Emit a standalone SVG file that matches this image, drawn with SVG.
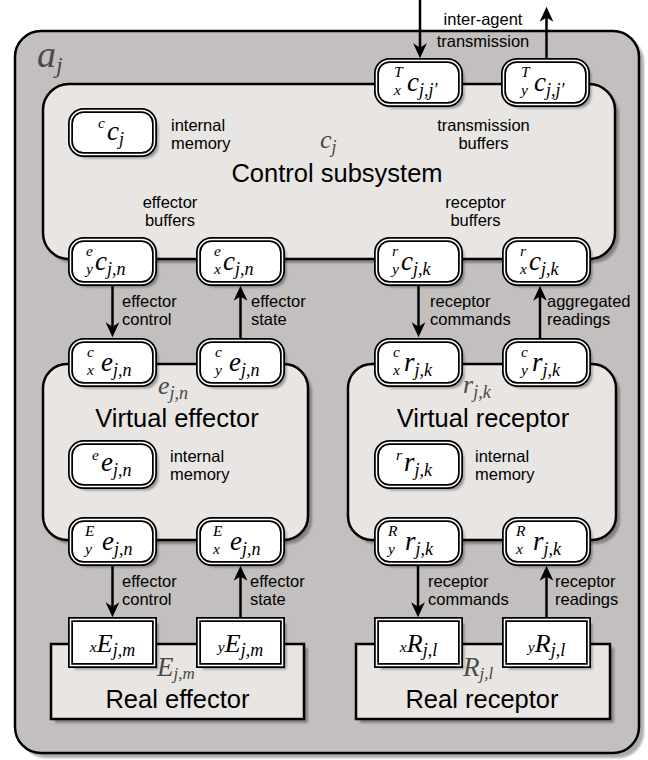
<svg xmlns="http://www.w3.org/2000/svg" width="648" height="760" viewBox="0 0 648 760">
<style>
.bx{stroke:#000;stroke-width:2.5}
.out{fill:#c3bfbe}
.inn{fill:#e8e5e3}
.nb{fill:#fff;stroke:#000;stroke-width:5}
.ni{fill:none;stroke:#fff;stroke-width:1.5}
.sh{fill:#000;opacity:.32;filter:url(#blur)}
.lbl{font-family:"Liberation Sans",Arial,sans-serif;font-size:16.5px;fill:#000}
.mid{text-anchor:middle}
.ttl{font-family:"Liberation Sans",Arial,sans-serif;font-size:25.5px;text-anchor:middle;fill:#000}
.m{font-family:"Liberation Serif","Times New Roman",serif;font-style:italic;fill:#000}
.mm{font-size:27px}
.mE{font-size:26px}
.ms{font-size:18px}
.mp{font-size:15.5px}
.g{fill:#4a4a4a}
.arr{stroke:#000;stroke-width:2.5;fill:none;marker-end:url(#ah)}
</style>
<defs>
<filter id="blur" x="-10%" y="-10%" width="120%" height="120%"><feGaussianBlur stdDeviation="1.2"/></filter>
<marker id="ah" markerUnits="userSpaceOnUse" markerWidth="20" markerHeight="20" viewBox="-14 -7 16 14" refX="-5" refY="0" orient="auto" overflow="visible">
<path d="M0,0 L-12,-5.5 L-8.5,0 L-12,5.5 Z" fill="#000"/>
</marker>
</defs>

<!-- outer agent box -->
<g id="agent">
<rect class="sh" x="20" y="36" width="624" height="722" rx="26"/>
<rect class="bx out" x="15" y="31" width="624" height="722" rx="26"/>
<text class="m g" x="37" y="67" font-size="38">a<tspan font-size="24" dy="6">j</tspan></text>
</g>

<!-- control subsystem -->
<g id="control">
<rect class="sh" x="47" y="88" width="572" height="175" rx="26"/>
<rect class="bx inn" x="43" y="84" width="572" height="175" rx="26"/>
<text class="m g" x="320" y="148" font-size="26">c<tspan font-size="18" dy="5">j</tspan></text>
<text class="ttl" x="337" y="182">Control subsystem</text>
<text class="lbl" x="171" y="131">internal</text>
<text class="lbl" x="171" y="149">memory</text>
<text class="lbl mid" x="483.5" y="130.5">transmission</text>
<text class="lbl mid" x="483.5" y="148.5">buffers</text>
<text class="lbl mid" x="170" y="207.5">effector</text>
<text class="lbl mid" x="170" y="225.5">buffers</text>
<text class="lbl mid" x="475.5" y="207.5">receptor</text>
<text class="lbl mid" x="475.5" y="225.5">buffers</text>
</g>

<!-- virtual effector -->
<g id="veffector">
<rect class="sh" x="47" y="368" width="265" height="176" rx="24"/>
<rect class="bx inn" x="43" y="364" width="265" height="176" rx="24"/>
<text class="m g" x="158" y="394" font-size="26">e<tspan font-size="18" dy="5">j,n</tspan></text>
<text class="ttl" x="177" y="427">Virtual effector</text>
<text class="lbl" x="170" y="462">internal</text>
<text class="lbl" x="170" y="480">memory</text>
</g>

<!-- virtual receptor -->
<g id="vreceptor">
<rect class="sh" x="352" y="368" width="268" height="176" rx="24"/>
<rect class="bx inn" x="348" y="364" width="268" height="176" rx="24"/>
<text class="m g" x="463" y="393" font-size="26">r<tspan font-size="18" dy="5">j,k</tspan></text>
<text class="ttl" x="483" y="427">Virtual receptor</text>
<text class="lbl" x="475" y="462">internal</text>
<text class="lbl" x="475" y="480">memory</text>
</g>

<!-- real effector -->
<g id="reffector">
<rect class="sh" x="55" y="648" width="253" height="75"/>
<rect class="bx inn" x="51" y="644" width="253" height="75"/>
<text class="m g" x="157" y="676" font-size="27">E<tspan font-size="17" dy="3">j,m</tspan></text>
<text class="ttl" x="177.5" y="708">Real effector</text>
</g>

<!-- real receptor -->
<g id="rreceptor">
<rect class="sh" x="360" y="648" width="254" height="75"/>
<rect class="bx inn" x="356" y="644" width="254" height="75"/>
<text class="m g" x="463" y="676" font-size="27">R<tspan font-size="17" dy="3">j,l</tspan></text>
<text class="ttl" x="482" y="708">Real receptor</text>
</g>

<!-- connectors -->
<g id="connectors">
<line class="arr" x1="420" y1="0" x2="420" y2="52"/>
<line class="arr" x1="546.5" y1="60" x2="546.5" y2="13"/>
<line class="arr" x1="112.5" y1="286" x2="112.5" y2="331"/>
<line class="arr" x1="240.5" y1="338" x2="240.5" y2="292"/>
<line class="arr" x1="418.5" y1="286" x2="418.5" y2="331"/>
<line class="arr" x1="540" y1="338" x2="540" y2="292"/>
<line class="arr" x1="112.5" y1="566" x2="112.5" y2="611"/>
<line class="arr" x1="240.5" y1="617" x2="240.5" y2="572"/>
<line class="arr" x1="418" y1="566" x2="418" y2="611"/>
<line class="arr" x1="546.5" y1="617" x2="546.5" y2="572"/>
<text class="lbl mid" x="483" y="25">inter-agent</text>
<text class="lbl mid" x="483" y="47">transmission</text>
<text class="lbl" x="122" y="306.5">effector</text>
<text class="lbl" x="122" y="324.5">control</text>
<text class="lbl" x="251" y="306.5">effector</text>
<text class="lbl" x="251" y="324.5">state</text>
<text class="lbl" x="430" y="306.5">receptor</text>
<text class="lbl" x="430" y="324.5">commands</text>
<text class="lbl" x="547" y="306.5">aggregated</text>
<text class="lbl" x="547" y="324.5">readings</text>
<text class="lbl" x="122" y="586.5">effector</text>
<text class="lbl" x="122" y="604.5">control</text>
<text class="lbl" x="250" y="586.5">effector</text>
<text class="lbl" x="250" y="604.5">state</text>
<text class="lbl" x="428" y="586.5">receptor</text>
<text class="lbl" x="428" y="604.5">commands</text>
<text class="lbl" x="555" y="586.5">receptor</text>
<text class="lbl" x="555" y="604.5">readings</text>
</g>

<!-- buffer nodes: control subsystem -->
<g id="n_Tx" transform="translate(374,58)">
<rect class="sh" x="6.5" y="6.5" width="84" height="44" rx="13"/>
<rect class="nb" x="2.5" y="2.5" width="84" height="44" rx="13"/><rect class="ni" x="2.5" y="2.5" width="84" height="44" rx="13"/>
<text class="m mp" x="20" y="19">T</text><text class="m mp" x="20" y="37">x</text>
<text class="m mm" x="33" y="33">c<tspan class="ms" dy="5">j,j′</tspan></text>
</g>
<g id="n_Ty" transform="translate(501,58)">
<rect class="sh" x="6.5" y="6.5" width="84" height="44" rx="13"/>
<rect class="nb" x="2.5" y="2.5" width="84" height="44" rx="13"/><rect class="ni" x="2.5" y="2.5" width="84" height="44" rx="13"/>
<text class="m mp" x="20" y="19">T</text><text class="m mp" x="20" y="37">y</text>
<text class="m mm" x="33" y="33">c<tspan class="ms" dy="5">j,j′</tspan></text>
</g>
<g id="n_cc" transform="translate(68,108)">
<rect class="sh" x="6.5" y="6.5" width="84" height="44" rx="13"/>
<rect class="nb" x="2.5" y="2.5" width="84" height="44" rx="13"/><rect class="ni" x="2.5" y="2.5" width="84" height="44" rx="13"/>
<text class="m mp" x="30" y="20">c</text>
<text class="m mm" x="39" y="32">c<tspan class="ms" dy="5">j</tspan></text>
</g>
<g id="n_eyc" transform="translate(68,237)">
<rect class="sh" x="6.5" y="6.5" width="84" height="44" rx="13"/>
<rect class="nb" x="2.5" y="2.5" width="84" height="44" rx="13"/><rect class="ni" x="2.5" y="2.5" width="84" height="44" rx="13"/>
<text class="m mp" x="18" y="19">e</text><text class="m mp" x="18" y="37">y</text>
<text class="m mm" x="27" y="33">c<tspan class="ms" dy="5">j,n</tspan></text>
</g>
<g id="n_exc" transform="translate(196,237)">
<rect class="sh" x="6.5" y="6.5" width="84" height="44" rx="13"/>
<rect class="nb" x="2.5" y="2.5" width="84" height="44" rx="13"/><rect class="ni" x="2.5" y="2.5" width="84" height="44" rx="13"/>
<text class="m mp" x="18" y="19">e</text><text class="m mp" x="18" y="37">x</text>
<text class="m mm" x="27" y="33">c<tspan class="ms" dy="5">j,n</tspan></text>
</g>
<g id="n_ryc" transform="translate(374,237)">
<rect class="sh" x="6.5" y="6.5" width="84" height="44" rx="13"/>
<rect class="nb" x="2.5" y="2.5" width="84" height="44" rx="13"/><rect class="ni" x="2.5" y="2.5" width="84" height="44" rx="13"/>
<text class="m mp" x="18" y="19">r</text><text class="m mp" x="18" y="37">y</text>
<text class="m mm" x="27" y="33">c<tspan class="ms" dy="5">j,k</tspan></text>
</g>
<g id="n_rxc" transform="translate(502,237)">
<rect class="sh" x="6.5" y="6.5" width="84" height="44" rx="13"/>
<rect class="nb" x="2.5" y="2.5" width="84" height="44" rx="13"/><rect class="ni" x="2.5" y="2.5" width="84" height="44" rx="13"/>
<text class="m mp" x="18" y="19">r</text><text class="m mp" x="18" y="37">x</text>
<text class="m mm" x="27" y="33">c<tspan class="ms" dy="5">j,k</tspan></text>
</g>

<!-- buffer nodes: virtual effector -->
<g id="n_cxe" transform="translate(68,338)">
<rect class="sh" x="6.5" y="6.5" width="84" height="44" rx="13"/>
<rect class="nb" x="2.5" y="2.5" width="84" height="44" rx="13"/><rect class="ni" x="2.5" y="2.5" width="84" height="44" rx="13"/>
<text class="m mp" x="19" y="19">c</text><text class="m mp" x="19" y="37">x</text>
<text class="m mm" x="33" y="33">e<tspan class="ms" dy="5">j,n</tspan></text>
</g>
<g id="n_cye" transform="translate(196,338)">
<rect class="sh" x="6.5" y="6.5" width="84" height="44" rx="13"/>
<rect class="nb" x="2.5" y="2.5" width="84" height="44" rx="13"/><rect class="ni" x="2.5" y="2.5" width="84" height="44" rx="13"/>
<text class="m mp" x="19" y="19">c</text><text class="m mp" x="19" y="37">y</text>
<text class="m mm" x="33" y="33">e<tspan class="ms" dy="5">j,n</tspan></text>
</g>
<g id="n_ee" transform="translate(68,440)">
<rect class="sh" x="6.5" y="6.5" width="84" height="44" rx="13"/>
<rect class="nb" x="2.5" y="2.5" width="84" height="44" rx="13"/><rect class="ni" x="2.5" y="2.5" width="84" height="44" rx="13"/>
<text class="m mp" x="24" y="20">e</text>
<text class="m mm" x="33" y="31">e<tspan class="ms" dy="5">j,n</tspan></text>
</g>
<g id="n_Eye" transform="translate(68,517)">
<rect class="sh" x="6.5" y="6.5" width="84" height="44" rx="13"/>
<rect class="nb" x="2.5" y="2.5" width="84" height="44" rx="13"/><rect class="ni" x="2.5" y="2.5" width="84" height="44" rx="13"/>
<text class="m mp" x="17" y="19">E</text><text class="m mp" x="17" y="37">y</text>
<text class="m mm" x="34" y="33">e<tspan class="ms" dy="5">j,n</tspan></text>
</g>
<g id="n_Exe" transform="translate(196,517)">
<rect class="sh" x="6.5" y="6.5" width="84" height="44" rx="13"/>
<rect class="nb" x="2.5" y="2.5" width="84" height="44" rx="13"/><rect class="ni" x="2.5" y="2.5" width="84" height="44" rx="13"/>
<text class="m mp" x="17" y="19">E</text><text class="m mp" x="17" y="37">x</text>
<text class="m mm" x="34" y="33">e<tspan class="ms" dy="5">j,n</tspan></text>
</g>

<!-- buffer nodes: virtual receptor -->
<g id="n_cxr" transform="translate(374,338)">
<rect class="sh" x="6.5" y="6.5" width="84" height="44" rx="13"/>
<rect class="nb" x="2.5" y="2.5" width="84" height="44" rx="13"/><rect class="ni" x="2.5" y="2.5" width="84" height="44" rx="13"/>
<text class="m mp" x="19" y="19">c</text><text class="m mp" x="19" y="37">x</text>
<text class="m mm" x="30" y="33">r<tspan class="ms" dy="5">j,k</tspan></text>
</g>
<g id="n_cyr" transform="translate(502,338)">
<rect class="sh" x="6.5" y="6.5" width="84" height="44" rx="13"/>
<rect class="nb" x="2.5" y="2.5" width="84" height="44" rx="13"/><rect class="ni" x="2.5" y="2.5" width="84" height="44" rx="13"/>
<text class="m mp" x="19" y="19">c</text><text class="m mp" x="19" y="37">y</text>
<text class="m mm" x="30" y="33">r<tspan class="ms" dy="5">j,k</tspan></text>
</g>
<g id="n_rr" transform="translate(374,440)">
<rect class="sh" x="6.5" y="6.5" width="84" height="44" rx="13"/>
<rect class="nb" x="2.5" y="2.5" width="84" height="44" rx="13"/><rect class="ni" x="2.5" y="2.5" width="84" height="44" rx="13"/>
<text class="m mp" x="22" y="20">r</text>
<text class="m mm" x="30" y="31">r<tspan class="ms" dy="5">j,k</tspan></text>
</g>
<g id="n_Ryr" transform="translate(374,517)">
<rect class="sh" x="6.5" y="6.5" width="84" height="44" rx="13"/>
<rect class="nb" x="2.5" y="2.5" width="84" height="44" rx="13"/><rect class="ni" x="2.5" y="2.5" width="84" height="44" rx="13"/>
<text class="m mp" x="14" y="19">R</text><text class="m mp" x="14" y="37">y</text>
<text class="m mm" x="31" y="33">r<tspan class="ms" dy="5">j,k</tspan></text>
</g>
<g id="n_Rxr" transform="translate(502,517)">
<rect class="sh" x="6.5" y="6.5" width="84" height="44" rx="13"/>
<rect class="nb" x="2.5" y="2.5" width="84" height="44" rx="13"/><rect class="ni" x="2.5" y="2.5" width="84" height="44" rx="13"/>
<text class="m mp" x="14" y="19">R</text><text class="m mp" x="14" y="37">x</text>
<text class="m mm" x="31" y="33">r<tspan class="ms" dy="5">j,k</tspan></text>
</g>

<!-- buffer nodes: real effector / receptor -->
<g id="n_xE" transform="translate(68,617)">
<rect class="sh" x="6.5" y="6.5" width="84" height="46"/>
<rect class="nb" x="2.5" y="2.5" width="84" height="46"/><rect class="ni" x="2.5" y="2.5" width="84" height="46"/>
<text class="m mid" x="44.5" y="35"><tspan class="mp">x</tspan><tspan class="mE">E</tspan><tspan class="ms" dy="4">j,m</tspan></text>
</g>
<g id="n_yE" transform="translate(196,617)">
<rect class="sh" x="6.5" y="6.5" width="84" height="46"/>
<rect class="nb" x="2.5" y="2.5" width="84" height="46"/><rect class="ni" x="2.5" y="2.5" width="84" height="46"/>
<text class="m mid" x="44.5" y="35"><tspan class="mp">y</tspan><tspan class="mE">E</tspan><tspan class="ms" dy="4">j,m</tspan></text>
</g>
<g id="n_xR" transform="translate(374,617)">
<rect class="sh" x="6.5" y="6.5" width="84" height="46"/>
<rect class="nb" x="2.5" y="2.5" width="84" height="46"/><rect class="ni" x="2.5" y="2.5" width="84" height="46"/>
<text class="m mid" x="44.5" y="35"><tspan class="mp">x</tspan><tspan class="mE">R</tspan><tspan class="ms" dy="4">j,l</tspan></text>
</g>
<g id="n_yR" transform="translate(502,617)">
<rect class="sh" x="6.5" y="6.5" width="84" height="46"/>
<rect class="nb" x="2.5" y="2.5" width="84" height="46"/><rect class="ni" x="2.5" y="2.5" width="84" height="46"/>
<text class="m mid" x="44.5" y="35"><tspan class="mp">y</tspan><tspan class="mE">R</tspan><tspan class="ms" dy="4">j,l</tspan></text>
</g>
</svg>
